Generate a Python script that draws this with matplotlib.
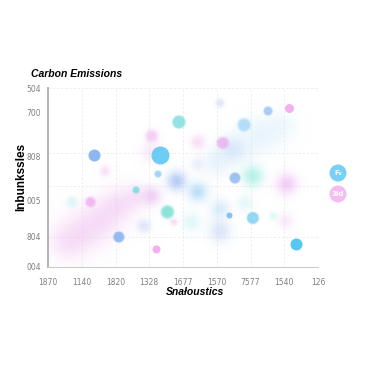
import numpy as np
import matplotlib.pyplot as plt
from matplotlib.colors import to_rgb

# bubble data (x in tick units, y in axis units)
sharp_x = [1.36, 3.33, 3.88, 7.15, 6.52, 5.81, 5.10, 3.07, 5.18, 4.44, 5.54, 3.26, 2.61, 1.26, 0.71, 3.54, 5.36, 6.07, 6.67, 2.10, 3.20, 7.35, 3.73, 1.69, 2.84]
sharp_y = [112, 112, 145, 159, 156, 142, 164, 131, 124, 125, 89, 93, 77, 65, 65, 55, 52, 49, 51, 30, 18, 23, 45, 96, 41]
sharp_r = [6, 9, 6.5, 4.5, 4.5, 6.5, 4, 6, 6, 6, 5.5, 3.5, 3.5, 5, 5, 6.5, 3, 6, 3.5, 5.5, 4, 6, 3, 3.5, 6]
sharp_blur = [0, 0, 0.5, 0, 0.5, 1, 1.5, 2, 1, 3, 0.5, 0.5, 0.5, 1, 2, 1, 0, 0.5, 1.5, 0.5, 0, 0, 1.5, 3, 3]
sharp_c = ["#7fb0f2", "#5ec8f5", "#7fe0dc", "#f2a8ee", "#9cc4f0", "#a8d8f6", "#dfe2f8", "#f5c6f2",
           "#e8b2ee", "#f7d8f6", "#8fb8f0", "#8fd0f2", "#70dede", "#f0aef0", "#d6f6f6", "#78e0d2",
           "#80b8f0", "#80d0f2", "#d6f8f8", "#80b2f0", "#f0a8f0", "#42c2f0", "#f8d2f2", "#f5d2f2",
           "#d8e2f8"]

blur_x = [0.55, 1.05, 1.60, 2.10, 2.60, 3.07, 3.81, 4.44, 5.10, 5.10, 6.07, 7.07, 4.26, 5.84,
          5.00, 5.60, 6.30, 6.90, 5.45, 4.44, 7.04, 3.07]
blur_y = [25, 35, 48, 62, 70, 71, 86, 75, 58, 36, 91, 83, 45, 64,
          105, 118, 132, 140, 118, 103, 46, 115]
blur_r = [20, 24, 22, 19, 14, 11, 11, 11, 11, 13, 12, 12, 11, 9,
          16, 18, 20, 18, 14, 8, 9, 12]
blur_c = ["#f2c0f0", "#f2c0f0", "#f0bef0", "#f0bcf0", "#eec0f2", "#e8b6f0", "#98b8f0", "#98d0f4",
          "#b4daf8", "#bccff4", "#98ecde", "#eeb4f2", "#c4f2f0", "#ccf0f4",
          "#cce4fa", "#cbe6fa", "#cbe6fa", "#d2ecfa", "#c6dcf8", "#d8dcf6", "#f4d0f2", "#f0ccf2"]
blur_a = [0.4, 0.45, 0.45, 0.45, 0.4, 0.6, 0.7, 0.65, 0.5, 0.5, 0.7, 0.65, 0.5, 0.5,
          0.4, 0.4, 0.4, 0.35, 0.45, 0.45, 0.45, 0.4]

x_labels = ["1870", "1140", "1820", "1328", "1677", "1570", "7577", "1540", "126"]
y_ticks = [1, 31, 67, 111, 154, 178]
y_labels = ["004", "804", "005", "808", "700", "504"]
y_grid = [30, 81, 114, 154, 179]

legend_labels = ["F\u2086", "3id"]
legend_colors = ["#6ccaf5", "#f2b6f0"]

PX = 72 / 100          # points per pixel
AX_W, AX_H = 270, 179  # axes size in pixels
XMAX, YMAX = 8, 179

fig = plt.figure(figsize=(3.68, 3.68), dpi=100)
ax = fig.add_axes([48 / 368, 1 - 267 / 368, AX_W / 368, AX_H / 368])

# soft (blurred) bubbles are composited into one RGBA layer
ss = 2
gx = (np.arange(AX_W * ss) + 0.5) / (AX_W * ss) * XMAX
gy = YMAX - (np.arange(AX_H * ss) + 0.5) / (AX_H * ss) * YMAX
GX, GY = np.meshgrid(gx, gy)
prem = np.zeros(GX.shape + (3,))
acc = np.zeros(GX.shape)
sx = AX_W / XMAX  # pixels per x unit


def comp(alpha, color):
    global prem, acc
    rgb = np.array(to_rgb(color))
    prem = rgb * alpha[..., None] + prem * (1 - alpha[..., None])
    acc = alpha + acc * (1 - alpha)


for x, y, r, c, a in zip(blur_x, blur_y, blur_r, blur_c, blur_a):
    d2 = ((GX - x) * sx) ** 2 + (GY - y) ** 2
    comp(a * np.exp(-d2 / (2 * (0.6 * r) ** 2)), c)

for x, y, r, b, c in zip(sharp_x, sharp_y, sharp_r, sharp_blur, sharp_c):
    if b > 0:
        d = np.sqrt(((GX - x) * sx) ** 2 + (GY - y) ** 2)
        comp(0.85 / (1 + np.exp((d - r) / (0.6 * b))), c)

img = np.zeros(GX.shape + (4,))
img[..., :3] = np.where(acc[..., None] > 0, prem / np.maximum(acc[..., None], 1e-6), 1)
img[..., 3] = acc
ax.imshow(img, extent=(0, XMAX, 0, YMAX), aspect="auto", interpolation="bilinear", zorder=2)

for x, y, r, b, c in zip(sharp_x, sharp_y, sharp_r, sharp_blur, sharp_c):
    if b <= 0:
        ax.scatter([x], [y], s=(2 * r * PX) ** 2, color=c, alpha=0.9, lw=0, zorder=3)

ax.set_xlim(0, XMAX)
ax.set_ylim(0, YMAX)
ax.set_xticks(range(9))
ax.set_xticklabels(x_labels)
ax.set_yticks(y_ticks)
ax.set_yticklabels(y_labels)
ax.set_yticks(y_grid, minor=True)
ax.tick_params(axis="both", which="both", length=0, labelsize=5.5, labelcolor="#808080", pad=5)
ax.tick_params(axis="x", pad=8)
ax.grid(axis="x", which="major", color="#ececec", lw=0.6, ls=(0, (3, 2)))
ax.grid(axis="y", which="minor", color="#ececec", lw=0.6, ls=(0, (3, 2)))
ax.set_axisbelow(True)
for s in ["top", "right"]:
    ax.spines[s].set_visible(False)
ax.spines["left"].set_color("#b4b4b4")
ax.spines["left"].set_linewidth(1.4)
ax.spines["bottom"].set_color("#cccccc")
ax.spines["bottom"].set_linewidth(0.8)

fig.text(31 / 368, 1 - 74 / 368, "Carbon Emissions", fontsize=7.5, fontweight="bold",
         fontstyle="italic", family="Liberation Sans", va="center", ha="left")
fig.text(21 / 368, 1 - 177 / 368, "Inbunkssles", fontsize=8.5, fontweight="bold",
         family="Liberation Sans", rotation=90, va="center", ha="center")
fig.text(195 / 368, 1 - 292 / 368, "Sna\u0142oustics", fontsize=7.5, fontweight="bold",
         fontstyle="italic", family="Liberation Sans", va="center", ha="center")

# legend markers
for i, (lab, col) in enumerate(zip(legend_labels, legend_colors)):
    yy = 1 - (173 + 21 * i) / 368
    fig.patches.append(plt.Circle((338 / 368, yy), 8.5 / 368, transform=fig.transFigure,
                                  color=col, lw=0, alpha=0.9))
    fig.text(338 / 368, yy, lab, fontsize=5, color="white", fontweight="bold",
             ha="center", va="center")

fig.savefig("out.png", dpi=100)
